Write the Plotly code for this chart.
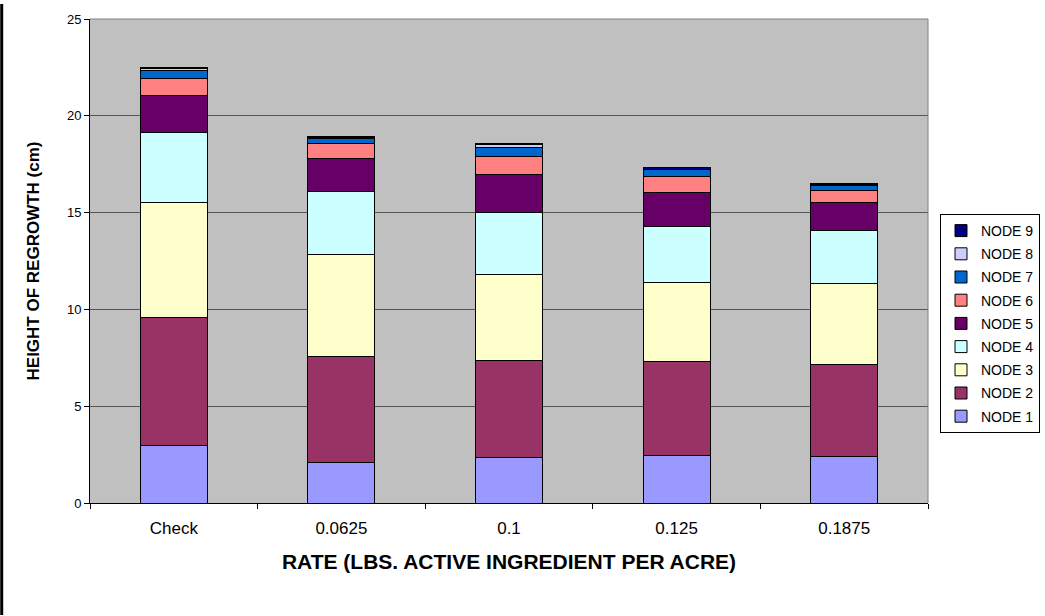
import plotly.graph_objects as go

rates = ["Check", "0.0625", "0.1", "0.125", "0.1875"]

node_1 = [2.97, 2.08, 2.37, 2.45, 2.40]
node_2 = [6.59, 5.50, 5.00, 4.85, 4.73]
node_3 = [5.95, 5.27, 4.44, 4.10, 4.22]
node_4 = [3.65, 3.26, 3.22, 2.90, 2.72]
node_5 = [1.90, 1.68, 1.92, 1.73, 1.43]
node_6 = [0.89, 0.77, 0.96, 0.85, 0.64]
node_7 = [0.41, 0.28, 0.44, 0.33, 0.26]
node_8 = [0.09, 0.05, 0.18, 0.04, 0.05]
node_9 = [0.07, 0.05, 0.03, 0.10, 0.05]

series = [
    ("NODE 1", node_1, "#9999FF"),
    ("NODE 2", node_2, "#993366"),
    ("NODE 3", node_3, "#FFFFCC"),
    ("NODE 4", node_4, "#CCFFFF"),
    ("NODE 5", node_5, "#660066"),
    ("NODE 6", node_6, "#FF8080"),
    ("NODE 7", node_7, "#0066CC"),
    ("NODE 8", node_8, "#CCCCFF"),
    ("NODE 9", node_9, "#000080"),
]

fig = go.Figure()
n = len(series)
for i, (name, vals, color) in enumerate(series):
    fig.add_trace(go.Bar(
        x=rates, y=vals, name=name, legendgroup=name,
        legendrank=n - i,  # top node listed first in the legend
        marker=dict(color=color, line=dict(color="black", width=1)),
    ))

# plot area geometry in pixels
W, H = 1045, 616
ml, mr, mt, mb = 90, 115, 15, 113
pw, ph = W - ml - mr, H - mt - mb

fig.update_layout(
    width=W, height=H,
    margin=dict(l=ml, r=mr, t=mt, b=mb, pad=0),
    barmode="stack", bargap=0.6,
    paper_bgcolor="white", plot_bgcolor="#C0C0C0",
    font=dict(family="Arial, Liberation Sans, sans-serif", size=12, color="black"),
    showlegend=True,
    legend=dict(
        xref="container", yref="container",
        x=940 / W, xanchor="left",
        y=1 - 214 / H, yanchor="top",
        traceorder="grouped", tracegroupgap=2,
        bordercolor="black", borderwidth=1, bgcolor="white",
        font=dict(size=14), itemwidth=30,
    ),
    xaxis=dict(
        showline=True, linecolor="black", linewidth=1,
        ticks="outside", tickson="boundaries", ticklen=5, tickcolor="black",
        showgrid=False, mirror=False,
        tickfont=dict(size=17), ticklabelstandoff=10,
        title=dict(text="<b>RATE (LBS. ACTIVE INGREDIENT PER ACRE)</b>",
                   font=dict(size=21), standoff=16),
    ),
    yaxis=dict(
        range=[0, 25], dtick=5, tickmode="linear",
        showline=True, linecolor="black", linewidth=1,
        ticks="outside", ticklen=5, tickcolor="black",
        showgrid=True, gridcolor="#555555", gridwidth=1,
        zeroline=False, tickfont=dict(size=13),
        title=dict(text="<b>HEIGHT OF REGROWTH (cm)</b>",
                   font=dict(size=17), standoff=22),
    ),
    shapes=[
        # gray frame on top and right of the plot area
        dict(type="line", xref="paper", yref="paper", x0=0, x1=1, y0=1, y1=1,
             line=dict(color="#808080", width=1)),
        dict(type="line", xref="paper", yref="paper", x0=1, x1=1, y0=0, y1=1,
             line=dict(color="#808080", width=1)),
        # heavy rule along the left edge of the page
        dict(type="rect", xref="paper", yref="paper",
             x0=(0 - ml) / pw, x1=(3 - ml) / pw,
             y0=-mb / ph, y1=(H - mb) / ph,
             fillcolor="black", line=dict(width=0)),
    ],
)

fig.write_html("out.html")
